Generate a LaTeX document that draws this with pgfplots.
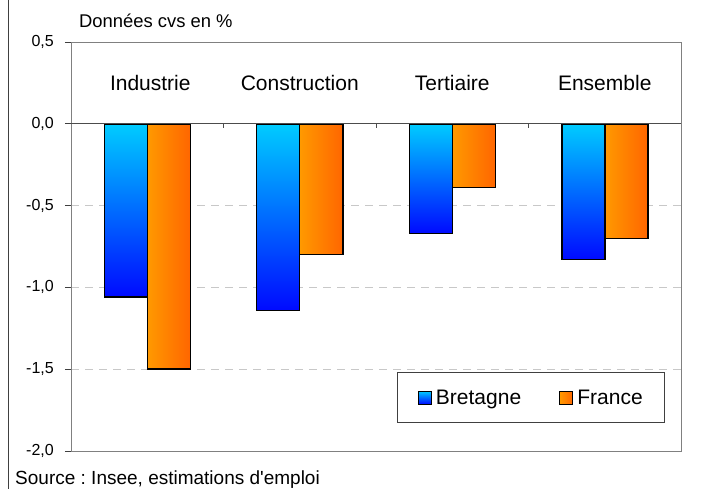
\documentclass[border=0pt]{standalone}
\usepackage{pgfplots}
\pgfplotsset{compat=1.18}
\usepackage{fontspec}
\setmainfont{Liberation Sans}
\definecolor{bretTop}{RGB}{0,204,255}
\definecolor{bretBot}{RGB}{0,10,255}
\definecolor{frLeft}{RGB}{255,153,0}
\definecolor{frRight}{RGB}{255,102,0}
\definecolor{gridc}{RGB}{200,200,200}
\definecolor{framec}{RGB}{128,128,128}
\pgfplotsset{
  bret/.style={draw=none, bar shift=-21.5bp, top color=bretTop, bottom color=bretBot},
  fran/.style={draw=none, bar shift=21.5bp, left color=frLeft, right color=frRight},
}
\begin{document}
\begin{tikzpicture}
\useasboundingbox (0,0) rectangle (710bp,489bp);
\begin{axis}[
  at={(71bp,38bp)}, anchor=south west,
  scale only axis, width=610bp, height=409bp,
  xmin=-0.5, xmax=3.5, ymin=-2, ymax=0.5,
  ytick={-2,-1.5,-1,-0.5,0,0.5}, ytick pos=left,
  xtick=\empty,
  ybar=0pt, bar width=43bp,
  axis line style={framec, line width=0.8pt},
  ymajorgrids, grid style={gridc, dash pattern=on 8bp off 6bp, line width=0.8pt},
  tick align=outside, major tick length=6bp,
  tick style={black!75, line width=0.8pt},
  /pgf/number format/.cd, use comma, fixed, fixed zerofill, precision=1, assume math mode=true,
  /pgfplots/.cd,
  yticklabel style={font=\fontsize{16bp}{18bp}\selectfont, inner sep=0pt, xshift=-11bp},
  legend columns=2,
  legend style={at={(0.974,0.0685)}, anchor=south east, draw=black!75, line width=0.8pt,
    font=\fontsize{21bp}{24bp}\selectfont, inner xsep=20bp, inner ysep=15bp,
    /tikz/every odd column/.append style={column sep=2bp},
    /tikz/every even column/.append style={column sep=36bp}},
  legend image code/.code={\path[#1] (0bp,-6.5bp) rectangle (13bp,6.5bp);
     \draw[black, line width=1.2pt] (0bp,-6.5bp) rectangle (13bp,6.5bp);},
  clip=false,
]
\addplot[bret] coordinates {(0,-1.06)};
\addlegendentry{Bretagne}
\addplot[fran] coordinates {(0,-1.50)};
\addlegendentry{France}
\addplot[bret] coordinates {(1,-1.14)};
\addplot[bret] coordinates {(2,-0.67)};
\addplot[bret] coordinates {(3,-0.83)};
\addplot[fran] coordinates {(1,-0.80)};
\addplot[fran] coordinates {(2,-0.39)};
\addplot[fran] coordinates {(3,-0.70)};
% outlines
\addplot[draw=black, fill=none, solid, line width=1.5pt, bar shift=-21.5bp]
  coordinates {(0,-1.06) (1,-1.14) (2,-0.67) (3,-0.83)};
\addplot[draw=black, fill=none, solid, line width=1.5pt, bar shift=21.5bp]
  coordinates {(0,-1.50) (1,-0.80) (2,-0.39) (3,-0.70)};
\draw[black!70, line width=0.8pt] (axis cs:-0.5,0) -- (axis cs:3.5,0);
\pgfplotsinvokeforeach{0.5,1.5,2.5}{\draw[black!70, line width=0.8pt] (axis cs:#1,0) -- ([yshift=-4bp]axis cs:#1,0);}
\node[font=\fontsize{21bp}{24bp}\selectfont] at (axis cs:0.02,0.25) {Industrie};
\node[font=\fontsize{21bp}{24bp}\selectfont] at (axis cs:1,0.25) {Construction};
\node[font=\fontsize{21bp}{24bp}\selectfont] at (axis cs:2,0.25) {Tertiaire};
\node[font=\fontsize{21bp}{24bp}\selectfont] at (axis cs:3,0.25) {Ensemble};
\end{axis}
\draw[black!75, line width=0.8pt] (8bp,0) -- (8bp,489bp);
\node[anchor=base west, font=\fontsize{18.4bp}{20bp}\selectfont, inner sep=0pt] at (79bp,461bp) {Données cvs en \%};
\node[anchor=base west, font=\fontsize{19bp}{22bp}\selectfont, inner sep=0pt] at (15bp,5bp) {\frenchspacing Source : Insee, estimations d\textquotesingle emploi};
\end{tikzpicture}
\end{document}
